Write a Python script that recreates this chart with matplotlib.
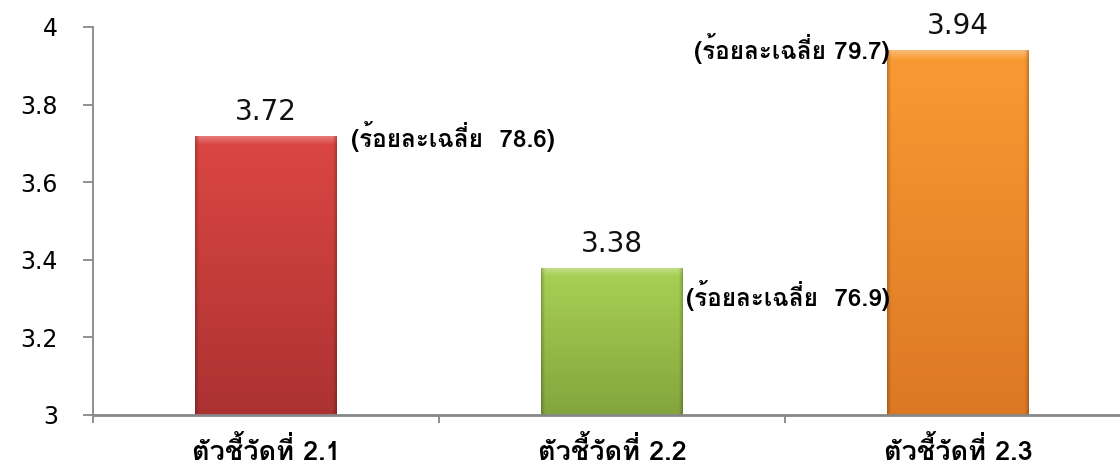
import matplotlib
matplotlib.use("Agg")
import matplotlib.pyplot as plt
import numpy as np
from matplotlib.colors import to_rgb

# ---- data ----
categories = ["ตัวชี้วัดที่ 2.1", "ตัวชี้วัดที่ 2.2", "ตัวชี้วัดที่ 2.3"]
values = [3.72, 3.38, 3.94]
value_labels = ["3.72", "3.38", "3.94"]
pct_labels = ["(ร้อยละเฉลี่ย  78.6)", "(ร้อยละเฉลี่ย  76.9)", "(ร้อยละเฉลี่ย 79.7)"]
yticks = [3, 3.2, 3.4, 3.6, 3.8, 4]
ytick_labels = ["3", "3.2", "3.4", "3.6", "3.8", "4"]

# ---- style ----
top_colors = ["#DC4743", "#A9D255", "#F99B33"]
bot_colors = ["#AC3232", "#84A53D", "#DC7824"]
THAI = ["Loma", "DejaVu Sans"]
AXCOL = "#878787"

fig = plt.figure(figsize=(11.2, 4.66), dpi=100)
ax = fig.add_axes([93/1120, 51/466, 1027/1120, 388/466])

x = np.arange(len(categories))
bw = 0.41
bars = ax.bar(x, values, width=bw, bottom=0, color=top_colors, zorder=2, linewidth=0)

def shaded(top, bot, nx=120, ny=300, hx=0.03, hy_px=9, h_px=300):
    top = np.array(to_rgb(top)); bot = np.array(to_rgb(bot))
    t = np.linspace(0, 1, ny)[:, None, None]  # 0 top -> 1 bottom
    img = top * (1 - t) + bot * t
    img = np.repeat(img, nx, axis=1)
    u = np.linspace(0, 1, nx)[None, :, None]
    edge = np.clip(1 - np.minimum(u, 1 - u) / hx, 0, 1)
    img = img * (1 - 0.22 * edge**1.5)
    yy = np.linspace(0, h_px, ny)[:, None, None]
    band = np.clip(1 - yy / hy_px, 0, 1)
    img = img + (1 - img) * 0.32 * band * (1 - edge * 0.6)
    return np.clip(img, 0, 1)

for b, tc, bc in zip(bars, top_colors, bot_colors):
    x0, w = b.get_x(), b.get_width()
    y1 = b.get_height()
    hpx = (y1 - 3) * 388
    img = shaded(tc, bc, h_px=hpx)
    im = ax.imshow(img, extent=[x0, x0 + w, 3, y1], aspect='auto', zorder=3,
                   interpolation='bilinear')
    im.set_clip_path(b)

# value labels above bars
for xi, v, lab in zip(x, values, value_labels):
    ax.annotate(lab, xy=(xi, v), xytext=(0, 11.5), textcoords='offset points',
                ha='center', va='baseline', fontsize=20, family='DejaVu Sans',
                color='#111111', zorder=5)

# percentage annotations
pct_anchor = [(bars[0].get_x() + bars[0].get_width(), values[0]),
              (bars[1].get_x() + bars[1].get_width(), values[1]),
              (bars[2].get_x(), values[2])]
pct_offsets = [(10, -0.5), (2, -20), (2, 1.5)]
pct_ha = ['left', 'left', 'right']
for (ax_, ay_), lab, off, ha in zip(pct_anchor, pct_labels, pct_offsets, pct_ha):
    ax.annotate(lab, xy=(ax_, ay_), xytext=off, textcoords='offset points',
                ha=ha, va='center', fontsize=17.5, family=THAI, weight='bold',
                color='black', zorder=6)

# axes styling
for s in ['top', 'right']:
    ax.spines[s].set_visible(False)
ax.spines['left'].set_color(AXCOL)
ax.spines['left'].set_linewidth(1.3)
ax.spines['bottom'].set_color(AXCOL)
ax.spines['bottom'].set_linewidth(2)
ax.spines['bottom'].set_zorder(4)

ax.set_yticks(yticks)
ax.set_yticklabels(ytick_labels, family='DejaVu Sans', fontsize=17)
ax.tick_params(axis='y', direction='out', length=7.2, width=1.3, color=AXCOL, pad=18)

ax.set_xticks(x)
ax.set_xticklabels(categories, family=THAI, weight='bold', fontsize=19.5)
ax.tick_params(axis='x', which='major', length=0, pad=15)
ax.set_xticks([-0.5, 0.5, 1.5], minor=True)
ax.tick_params(axis='x', which='minor', direction='out', length=6, width=1.3, color=AXCOL)

# limits last (set_xticks may widen them)
ax.set_xlim(-0.5, -0.5 + 1027/346)
ax.set_ylim(3, 4)

fig.savefig("out.png", dpi=100)
